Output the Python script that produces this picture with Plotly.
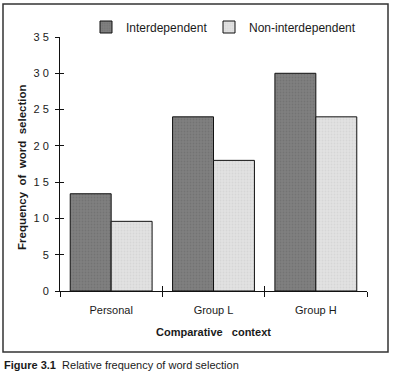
import plotly.graph_objects as go

categories = ["Personal", "Group L", "Group H"]
interdependent = [13.4, 24.0, 30.0]
non_interdependent = [9.6, 18.0, 24.0]
y_tickvals = [0, 5, 10, 15, 20, 25, 30, 35]
y_ticktext = ["0", "5", "1 0", "1 5", "2 0", "2 5", "3 0", "3 5"]

W, H = 393, 372
def px_x(p): return p / W
def px_y(p): return 1 - p / H

FONT = "Liberation Sans, Arial, Helvetica, sans-serif"
TXT = "#1a1a1a"

fig = go.Figure()
fig.add_trace(go.Bar(
    x=categories, y=interdependent, name="Interdependent", legend="legend",
    marker=dict(color="#7a7a7a", line=dict(color="#111111", width=1),
                pattern=dict(shape=".", fgcolor="#666666", bgcolor="#808080", size=3, solidity=0.3)),
))
fig.add_trace(go.Bar(
    x=categories, y=non_interdependent, name="Non-interdependent", legend="legend2",
    marker=dict(color="#dddddd", line=dict(color="#111111", width=1),
                pattern=dict(shape=".", fgcolor="#cacaca", bgcolor="#e2e2e2", size=3, solidity=0.3)),
))
# empty helper trace to carry the overlay axes (crossing ticks)
fig.add_trace(go.Scatter(x=[], y=[], xaxis="x2", yaxis="y2", showlegend=False, hoverinfo="skip"))

xdom = [px_x(60), px_x(367)]
ydom = [px_y(291), px_y(37)]

leg_common = dict(orientation="h", yanchor="middle", xanchor="left", itemwidth=30,
                  font=dict(size=12, family=FONT, color=TXT), bgcolor="rgba(0,0,0,0)")

fig.update_layout(
    width=W, height=H,
    margin=dict(l=0, r=0, t=0, b=0),
    paper_bgcolor="white", plot_bgcolor="white",
    barmode="group", bargap=0.2, bargroupgap=0,
    font=dict(family=FONT, size=11, color=TXT),
    showlegend=True,
    legend=dict(x=px_x(86), y=px_y(27), **leg_common),
    legend2=dict(x=px_x(209), y=px_y(27), **leg_common),
    xaxis=dict(domain=xdom, type="category", range=[-0.5, 2.5], showgrid=False, zeroline=False,
               showline=True, linecolor="#111111", linewidth=1,
               ticks="outside", ticklen=5, tickcolor="#111111", tickson="boundaries",
               tickfont=dict(size=11, color=TXT), ticklabelstandoff=9, automargin=False, fixedrange=True),
    yaxis=dict(domain=ydom, range=[0, 35], tickvals=y_tickvals, ticktext=y_ticktext, showgrid=False,
               zeroline=False, showline=True, linecolor="#111111", linewidth=1,
               ticks="outside", ticklen=4, tickcolor="#111111", tickfont=dict(size=11, color=TXT),
               ticklabelstandoff=4, automargin=False, fixedrange=True),
    xaxis2=dict(domain=xdom, overlaying="x", anchor="y2", range=[-0.5, 2.5],
                tickvals=[-0.5, 0.5, 1.5, 2.5], showticklabels=False, ticks="inside", ticklen=5,
                tickcolor="#111111", showgrid=False, zeroline=False, showline=False, fixedrange=True),
    yaxis2=dict(domain=ydom, overlaying="y", anchor="x2", range=[0, 35], tickvals=y_tickvals,
                showticklabels=False, ticks="inside", ticklen=4, tickcolor="#111111",
                showgrid=False, zeroline=False, showline=False, fixedrange=True),
)

fig.add_annotation(text="<b>Comparative   context</b>", xref="paper", yref="paper",
                   x=px_x(213), y=px_y(332), xanchor="center", yanchor="middle",
                   showarrow=False, font=dict(size=11, family=FONT, color=TXT))
fig.add_annotation(text="<b>Frequency  of  word  selection</b>", xref="paper", yref="paper",
                   x=px_x(22), y=px_y(167), xanchor="center", yanchor="middle", textangle=-90,
                   showarrow=False, font=dict(size=11.5, family=FONT, color=TXT))
fig.add_annotation(text="<b>Figure 3.1</b>  Relative frequency of word selection", xref="paper", yref="paper",
                   x=px_x(2), y=px_y(357), xanchor="left", yanchor="top",
                   showarrow=False, font=dict(size=11, family=FONT, color=TXT))

fig.add_shape(type="rect", xref="paper", yref="paper",
              x0=px_x(3), x1=px_x(388), y0=px_y(352), y1=px_y(4),
              line=dict(color="#333333", width=1.5), fillcolor="rgba(0,0,0,0)", layer="below")

fig.write_html("out.html")
